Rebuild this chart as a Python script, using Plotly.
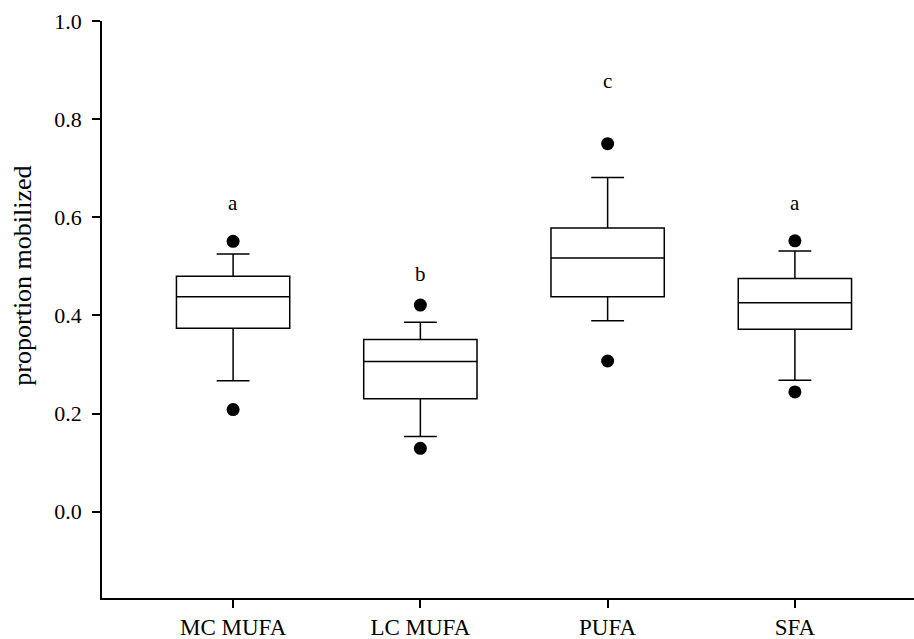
import plotly.graph_objects as go

categories = ["MC MUFA", "LC MUFA", "PUFA", "SFA"]
q1 = [0.374, 0.230, 0.438, 0.372]
median = [0.438, 0.306, 0.517, 0.426]
q3 = [0.480, 0.351, 0.578, 0.475]
lower_whisker = [0.267, 0.153, 0.389, 0.268]
upper_whisker = [0.525, 0.386, 0.681, 0.531]
outlier_low = [0.208, 0.129, 0.307, 0.244]
outlier_high = [0.551, 0.421, 0.750, 0.552]
letters = ["a", "b", "c", "a"]
letter_y = [0.630, 0.484, 0.878, 0.630]
y_ticks = [0.0, 0.2, 0.4, 0.6, 0.8, 1.0]
y_title = "proportion mobilized"

FONT = '"Liberation Serif", "Times New Roman", Times, serif'

fig = go.Figure()
fig.add_trace(go.Box(
    x=categories, q1=q1, median=median, q3=q3,
    lowerfence=lower_whisker, upperfence=upper_whisker,
    boxpoints=False, width=0.605, whiskerwidth=0.29,
    fillcolor="white", line=dict(color="black", width=1.5),
    showlegend=False, hoverinfo="skip",
))
fig.add_trace(go.Scatter(
    x=categories + categories, y=outlier_low + outlier_high,
    mode="markers", marker=dict(color="black", size=13),
    showlegend=False, hoverinfo="skip",
))
for c, t, yv in zip(categories, letters, letter_y):
    fig.add_annotation(x=c, y=yv, text=t, showarrow=False,
                       font=dict(family=FONT, size=21, color="black"))

# y-axis title placed as rotated annotation (centred on the 0..1 span, as in the original)
fig.add_annotation(xref="paper", yref="y", x=0, y=0.48, xshift=-96,
                   text=y_title, textangle=-90, showarrow=False,
                   font=dict(family=FONT, size=26, color="black"))

fig.update_layout(
    width=914, height=639,
    margin=dict(l=102, r=0, t=21, b=41),
    plot_bgcolor="white", paper_bgcolor="white",
    font=dict(family=FONT, size=20, color="black"),
)
fig.update_xaxes(
    type="category", range=[-0.70, 3.636],
    showline=True, linecolor="black", linewidth=1.5,
    ticks="outside", ticklen=8, tickwidth=1.5, tickcolor="black",
    showgrid=False, zeroline=False,
    tickfont=dict(family=FONT, size=23, color="black"),
)
fig.update_yaxes(
    range=[-0.176, 1.0], tickvals=y_ticks,
    ticktext=[f"{v:.1f}" for v in y_ticks],
    showline=True, linecolor="black", linewidth=1.5,
    ticks="outside", ticklen=8, tickwidth=1.5, tickcolor="black",
    showgrid=False, zeroline=False, ticklabelstandoff=6,
    tickfont=dict(family=FONT, size=22, color="black"),
)

fig.write_html("out.html", config={"displayModeBar": False},
               post_script="document.body.style.margin='0';document.body.style.overflow='hidden';")
